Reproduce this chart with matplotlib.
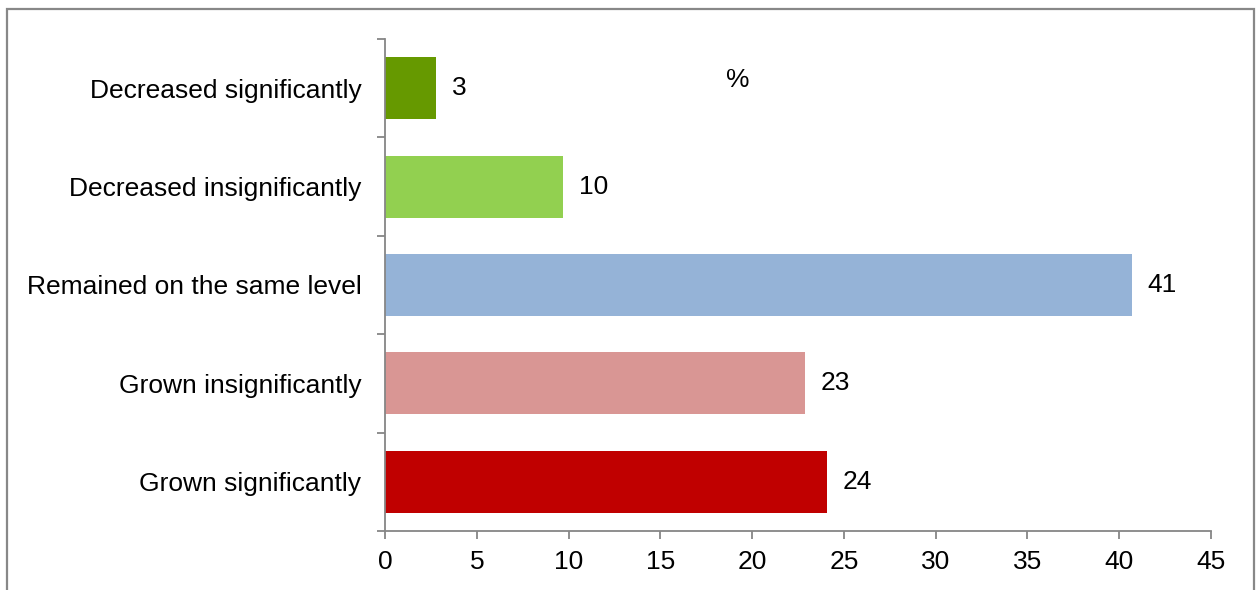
import matplotlib
matplotlib.use("Agg")
import matplotlib.pyplot as plt
from matplotlib.patches import Rectangle

plt.rcParams['font.family'] = ['Liberation Sans', 'DejaVu Sans']

categories = [
    "Grown significantly",
    "Grown insignificantly",
    "Remained on the same level",
    "Decreased insignificantly",
    "Decreased significantly",
]
values = [24.1, 22.9, 40.7, 9.7, 2.8]
colors = ["#C00000", "#D99694", "#95B3D7", "#92D050", "#669900"]
x_ticks = [0, 5, 10, 15, 20, 25, 30, 35, 40, 45]

FS = 19
W, H = 1257, 590
fig = plt.figure(figsize=(W / 100, H / 100), dpi=100)
ax = fig.add_axes([385 / W, 1 - 531 / H, (1211 - 385) / W, (531 - 39) / H])

pos = list(range(len(categories)))
ax.barh(pos, values, height=0.63, color=colors, zorder=2)
for p, v in zip(pos, values):
    ax.text(v + 0.85, p, f"{v:.0f}", va="center", ha="left", fontsize=FS)

ax.set_xlim(0, 45)
ax.set_ylim(-0.5, len(categories) - 0.5)
ax.set_xticks(x_ticks)
ax.set_xticklabels([str(t) for t in x_ticks], fontsize=FS)

# category labels sit between tick marks placed on category boundaries
ax.set_yticks([i - 0.5 for i in range(len(categories) + 1)])
ax.set_yticklabels([])
ax.set_yticks(pos, minor=True)
ax.set_yticklabels(categories, minor=True, fontsize=FS)
ax.tick_params(axis="y", which="minor", length=0, pad=17)
ax.tick_params(axis="y", which="major", length=6, color="#868686", width=1.3)
ax.tick_params(axis="x", length=6, color="#868686", width=1.3, pad=8)

for s in ("top", "right"):
    ax.spines[s].set_visible(False)
for s in ("left", "bottom"):
    ax.spines[s].set_color("#868686")
    ax.spines[s].set_linewidth(1.3)

ax.text(19.2, 4.08, "%", fontsize=FS, ha="center", va="center")

# outer chart frame
fig.patches.append(Rectangle((7 / W, -0.05), (1254 - 7) / W, 1.05 - 9 / H,
                             transform=fig.transFigure, fill=False,
                             edgecolor="#888888", linewidth=1.6))

fig.savefig("out.png", dpi=100)
